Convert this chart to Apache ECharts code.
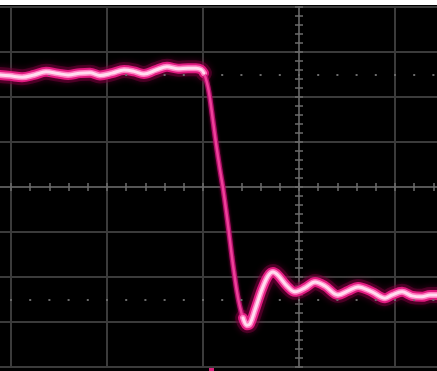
<!DOCTYPE html>
<html><head><meta charset="utf-8">
<script src="https://cdn.jsdelivr.net/npm/echarts@6/dist/echarts.min.js"></script>
<style>
html,body{margin:0;padding:0;background:#fff;width:437px;height:371px;overflow:hidden;position:relative}
#c{position:absolute;left:-85px;top:5px;width:576px;height:366px;}
</style></head>
<body><div id="c"></div>
<script>
// values in screen divisions (x: time div, y: volt div, centre = 0,0)
const topTime  = [-3.115,-3.010,-2.885,-2.760,-2.635,-2.510,-2.406,-2.281,-2.177,-2.073,-1.948,-1.823,-1.719,-1.615,-1.490,-1.375,-1.260,-1.156,-1.073,-1.021,-0.990];
const topLevel = [2.49,2.47,2.44,2.49,2.56,2.52,2.49,2.53,2.54,2.48,2.53,2.60,2.57,2.51,2.60,2.67,2.63,2.64,2.64,2.61,2.53];
const edgeTime  = [-1.021,-0.990,-0.969,-0.948,-0.927,-0.896,-0.865,-0.823,-0.792,-0.760,-0.729,-0.698,-0.677,-0.646,-0.615,-0.583,-0.552,-0.521];
const edgeLevel = [2.61,2.53,2.40,2.22,1.96,1.47,0.98,0.38,-0.02,-0.51,-1.02,-1.56,-1.89,-2.33,-2.67,-2.91,-3.04,-3.09];
const ringTime  = [-0.583,-0.542,-0.510,-0.458,-0.385,-0.323,-0.271,-0.219,-0.125,-0.042,0.063,0.167,0.271,0.406,0.510,0.615,0.760,0.896,0.969,1.073,1.177,1.281,1.365,1.4375,1.55];
const ringLevel = [-2.91,-3.07,-3.04,-2.73,-2.27,-1.98,-1.89,-1.96,-2.20,-2.33,-2.24,-2.11,-2.20,-2.40,-2.31,-2.22,-2.33,-2.47,-2.40,-2.33,-2.42,-2.44,-2.40,-2.40,-2.41];
const markerLevels = [2.5, -2.5];

const zip = (a,b)=>a.map((v,i)=>[v,b[i]]);
const topData = zip(topTime, topLevel);
const edgeData = zip(edgeTime, edgeLevel);
const ringData = zip(ringTime, ringLevel);

function glow(data){
  return [
    {type:'line',data,symbol:'none',smooth:0.35,silent:true,z:3,
     lineStyle:{width:16,color:'rgba(120,0,60,0.5)',shadowBlur:6,shadowColor:'rgba(140,0,70,0.8)',cap:'round',join:'round'}},
    {type:'line',data,symbol:'none',smooth:0.35,silent:true,z:4,
     lineStyle:{width:10,color:'#e01a80',cap:'round',join:'round'}},
    {type:'line',data,symbol:'none',smooth:0.35,silent:true,z:5,
     lineStyle:{width:6,color:'#ff80c2',cap:'round',join:'round'}},
    {type:'line',data,symbol:'none',smooth:0.35,silent:true,z:6,
     lineStyle:{width:3,color:'#ffdcef',cap:'round',join:'round'}}
  ];
}

const xBase = {type:'value',min:-4,max:2,interval:1,axisLabel:{show:false}};
const yBase = {type:'value',min:-4,max:4,interval:1,axisLabel:{show:false}};
const tickStyle = {show:true,inside:true,length:4,lineStyle:{color:'#6e6e6e',width:1.5}};
const minorStyle = {show:true,splitNumber:5,length:4,lineStyle:{color:'#6e6e6e',width:1.5}};
const lineOn = {show:true,onZero:true,lineStyle:{color:'#555',width:2}};

const chart = echarts.init(document.getElementById('c'),null,{renderer:'canvas'});
chart.setOption({
  animation:false,
  backgroundColor:'#000',
  grid:{left:0,top:2,width:576,height:360,containLabel:false},
  xAxis:[
    Object.assign({},xBase,{position:'bottom',axisLine:lineOn,axisTick:tickStyle,minorTick:minorStyle,
      splitLine:{show:true,lineStyle:{color:'#3b3b3b',width:2}}}),
    Object.assign({},xBase,{position:'top',axisLine:lineOn,axisTick:tickStyle,minorTick:minorStyle,splitLine:{show:false}})
  ],
  yAxis:[
    Object.assign({},yBase,{position:'left',axisLine:lineOn,axisTick:tickStyle,minorTick:minorStyle,
      splitLine:{show:true,lineStyle:{color:'#3b3b3b',width:2}}}),
    Object.assign({},yBase,{position:'right',axisLine:lineOn,axisTick:tickStyle,minorTick:minorStyle,splitLine:{show:false}})
  ],
  graphic:[{type:'rect',left:294,top:362,shape:{width:5,height:4},style:{fill:'#d8207a'}}],
  series:[
    {type:'line',data:[],symbol:'none',silent:true,z:2,
     markLine:{silent:true,symbol:'none',label:{show:false},
       lineStyle:{color:'#6a6a6a',width:2,type:[2,17.2],dashOffset:1},
       data:markerLevels.map(v=>[{coord:[-4,v]},{coord:[2,v]}])}},
    ...glow(topData),
    {type:'line',data:edgeData,symbol:'none',smooth:0.3,silent:true,z:4,
     lineStyle:{width:5,color:'#b0106a',shadowBlur:3,shadowColor:'rgba(200,0,100,0.7)'}},
    {type:'line',data:edgeData,symbol:'none',smooth:0.3,silent:true,z:5,
     lineStyle:{width:2.5,color:'#f0409a'}},
    ...glow(ringData)
  ]
});
</script>
</body></html>
